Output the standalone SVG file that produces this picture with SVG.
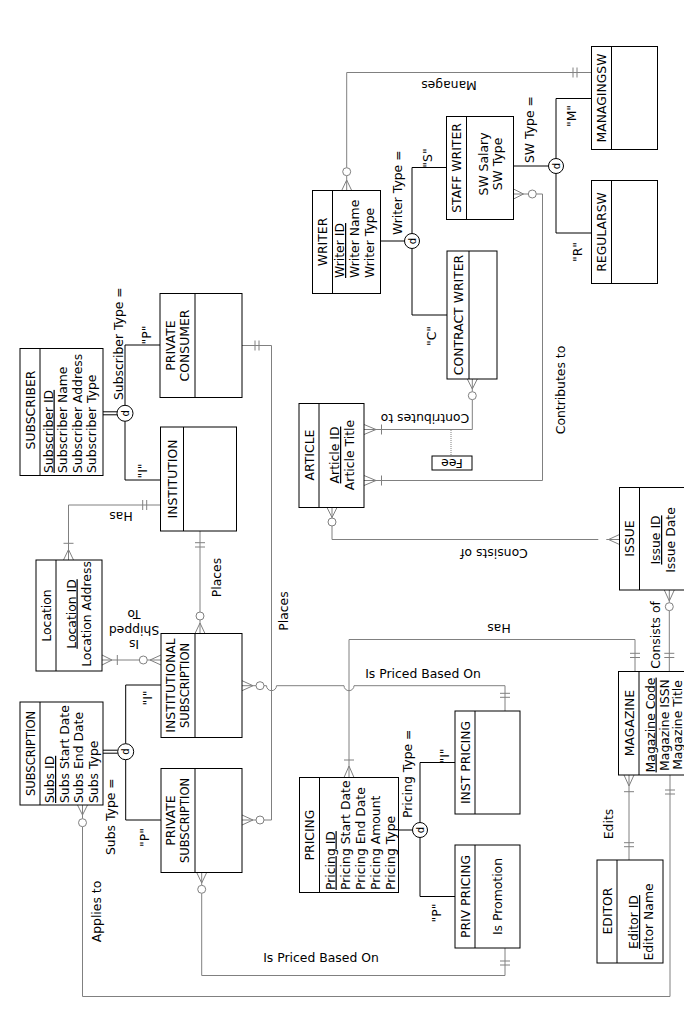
<svg xmlns="http://www.w3.org/2000/svg" width="684" height="1024" viewBox="0 0 684 1024">
<style>
.e{fill:#fff;stroke:#000;stroke-width:1}
.dv{stroke:#000;stroke-width:1}
.c{fill:none;stroke:#808080;stroke-width:1}
.o{fill:#fff;stroke:#808080;stroke-width:1}
.k{fill:none;stroke:#000;stroke-width:1}
.dc{fill:#fff;stroke:#000;stroke-width:1}
.dot{fill:none;stroke:#808080;stroke-width:1;stroke-dasharray:1 1}
text{font-family:"DejaVu Sans",Verdana,sans-serif;font-size:12.4px;fill:#000}
.m{text-anchor:middle}
.u{text-decoration:underline}
.sm{font-size:10px}
.n{font-size:11.5px}
</style>
<rect width="684" height="1024" fill="#fff"/>

<g id="connectors">
  <!-- Manages -->
  <path class="c" d="M346.7,167.7 V72.5 H591.5 M573,67.5 V77.5 M577,67.5 V77.5 M341.7,190.5 L346.7,180 L351.7,190.5 M346.7,175.7 V190.5"/>
  <circle class="o" cx="346.7" cy="171.7" r="4"/>
  <text class="m" transform="translate(449,81) rotate(180)">Manages</text>

  <!-- Staff writer contributes to article -->
  <path class="c" d="M513.5,189 L523.5,194 L513.5,199 M513.5,194 H528.3 M536.3,194 H542.5 V480.5 H364 M381.5,475.5 V485.5 M364,475.5 L376,480.5 L364,485.5"/>
  <circle class="o" cx="532.3" cy="194" r="4"/>
  <text class="m" transform="translate(564.5,390) rotate(-90)">Contributes to</text>

  <!-- Contract writer contributes to article -->
  <path class="c" d="M467.3,379 L472.3,389 L477.3,379 M472.3,379 V391.7 M472.3,399.7 V429.5 H364 M381.5,424.5 V434.5 M364,424.5 L376,429.5 L364,434.5"/>
  <circle class="o" cx="472.3" cy="395.7" r="4"/>
  <path class="dot" d="M451,430 V456"/>
  <text class="m" transform="translate(425,414) rotate(180)">Contributes to</text>

  <!-- Article consists of issue -->
  <path class="c" d="M327,507.5 L332,517.5 L337,507.5 M332,507.5 V518 M332,526 V539.5 H598.3 M606.3,539.5 H619.5 M619.5,534.5 L608.5,539.5 L619.5,544.5"/>
  <circle class="o" cx="332" cy="522" r="4"/>
  <text class="m" transform="translate(494,549) rotate(180)">Consists of</text>

  <!-- Magazine consists of issue -->
  <path class="c" d="M664.3,590 L669.3,601 L674.3,590 M669.3,590 V602.7 M669.3,610.7 V671.5 M664.3,653.3 H674.3 M664.3,657.5 H674.3"/>
  <circle class="o" cx="669.3" cy="606.7" r="4"/>
  <text class="m" transform="translate(660,635) rotate(-90)">Consists of</text>

  <!-- Magazine has pricing -->
  <path class="c" d="M635,671.5 V639.5 H349 V777.5 M630,653.3 H640 M630,657.5 H640 M344,760 H354 M344,777.5 L349,766 L354,777.5"/>
  <text class="m" transform="translate(499,624) rotate(180)">Has</text>

  <!-- Institutional subscription is priced based on inst pricing -->
  <path class="c" d="M242,680.7 L253,685.7 L242,690.7 M242,685.7 H256 M264,685.7 H266.5 A5,5 0 0 0 276.5,685.7 H344 A5,5 0 0 0 354,685.7 H505 V711 M500,693.3 H510 M500,697.3 H510"/>
  <circle class="o" cx="260" cy="685.7" r="4"/>
  <text class="m" transform="translate(423,677.5)">Is Priced Based On</text>

  <!-- Private subscription is priced based on priv pricing -->
  <path class="c" d="M196.7,872.5 L201.7,883 L206.7,872.5 M201.7,872.5 V885.3 M201.7,893.3 V975.5 H505 V948 M500,961 H510 M500,965 H510"/>
  <circle class="o" cx="201.7" cy="889.3" r="4"/>
  <text class="m" transform="translate(321,962)">Is Priced Based On</text>

  <!-- Private consumer places private subscription -->
  <path class="c" d="M242,345.5 H271.5 V820 H264 M255,340.5 V350.5 M259,340.5 V350.5 M256,820 H242 M242,815 L253,820 L242,825"/>
  <circle class="o" cx="260" cy="820" r="4"/>
  <text class="m" transform="translate(287.5,611) rotate(-90)">Places</text>

  <!-- Institution places institutional subscription -->
  <path class="c" d="M200,531 V612 M195,542.7 H205 M195,547 H205 M200,620 V633.5 M195,633.5 L200,623 L205,633.5"/>
  <circle class="o" cx="200" cy="616" r="4"/>
  <text class="m" transform="translate(221,577.5) rotate(-90)">Places</text>

  <!-- Institution has location -->
  <path class="c" d="M160.5,505 H68.5 V560 M142.7,500 V510 M146.7,500 V510 M63.5,543.3 H73.5 M63.5,560 L68.5,549.5 L73.5,560"/>
  <text class="m" transform="translate(121,512) rotate(180)">Has</text>

  <!-- Institutional subscription is shipped to location -->
  <path class="c" d="M161,655 L150,660 L161,665 M161,660 H147.3 M139.3,660 H102 M117.3,655 V665 M102,655 L112,660 L102,665"/>
  <circle class="o" cx="143.3" cy="660" r="4"/>
  <text class="m" transform="translate(134,640) rotate(180)">Is</text>
  <text class="m" transform="translate(134,626) rotate(180)">Shipped</text>
  <text class="m" transform="translate(134,610) rotate(180)">To</text>

  <!-- Editor edits magazine -->
  <path class="c" d="M629,775 V860 M624,775 L629,786 L634,775 M624,791.7 H634 M624,842.7 H634 M624,846.7 H634"/>
  <text class="m" transform="translate(613,824) rotate(-90)">Edits</text>

  <!-- Subscription applies to magazine -->
  <path class="c" d="M670,775 V996.5 H82.5 V826.7 M665,790 H675 M665,794 H675 M82.5,818.7 V805 M77.5,805 L82.5,815 L87.5,805"/>
  <circle class="o" cx="82.5" cy="822.7" r="4"/>
  <text class="m" transform="translate(100.5,911.5) rotate(-90)">Applies to</text>
</g>

<g id="disjoint-sw-type">
  <path class="k" d="M513.5,166 H548.5 M556,158.5 V98.5 H591.5 M556,173.5 V233 H591.5"/>
  <circle class="dc" cx="556" cy="166" r="7.5"/>
  <text class="m sm" transform="translate(559.5,166) rotate(-90)">d</text>
  <text transform="translate(533.5,163) rotate(-90)">SW Type =</text>
  <text class="m" transform="translate(576,116) rotate(-90)">"M"</text>
  <text class="m" transform="translate(582,252) rotate(-90)">"R"</text>
</g>

<g id="disjoint-writer-type">
  <path class="k" d="M380.5,241 H404.5 M412,233.5 V167.5 H446.5 M412,248.5 V315 H447"/>
  <circle class="dc" cx="412" cy="241" r="7.5"/>
  <text class="m sm" transform="translate(415.5,241) rotate(-90)">d</text>
  <text transform="translate(401.5,235) rotate(-90)">Writer Type =</text>
  <text class="m" transform="translate(431.5,158) rotate(-90)">"S"</text>
  <text class="m" transform="translate(436,336) rotate(-90)">"C"</text>
</g>

<g id="disjoint-subscriber-type">
  <path class="k" d="M103,411.8 H117 M103,414.8 H117 M125,405.3 V345 H160 M125,421.3 V480 H160.5"/>
  <circle class="dc" cx="125" cy="413.3" r="8"/>
  <text class="m sm" transform="translate(128.5,413.3) rotate(-90)">d</text>
  <text transform="translate(122.5,400) rotate(-90)">Subscriber Type =</text>
  <text class="m" transform="translate(150.5,335) rotate(-90)">"P"</text>
  <text class="m" transform="translate(146.5,471) rotate(-90)">"I"</text>
</g>

<g id="disjoint-subs-type">
  <path class="k" d="M103,750.2 H117.7 M103,753.2 H117.7 M125.7,743.7 V685 H161 M125.7,759.7 V820 H161"/>
  <circle class="dc" cx="125.7" cy="751.7" r="8"/>
  <text class="m sm" transform="translate(129.2,751.7) rotate(-90)">d</text>
  <text transform="translate(114.5,855) rotate(-90)">Subs Type =</text>
  <text class="m" transform="translate(152,698) rotate(-90)">"I"</text>
  <text class="m" transform="translate(149,837.5) rotate(-90)">"P"</text>
</g>

<g id="disjoint-pricing-type">
  <path class="k" d="M398.5,830 H412.5 M420,822.5 V762.5 H455 M420,837.5 V896.5 H455"/>
  <circle class="dc" cx="420" cy="830" r="7.5"/>
  <text class="m sm" transform="translate(423.5,830) rotate(-90)">d</text>
  <text transform="translate(412,818) rotate(-90)">Pricing Type =</text>
  <text class="m" transform="translate(448.5,756) rotate(-90)">"I"</text>
  <text class="m" transform="translate(440.5,913) rotate(-90)">"P"</text>
</g>

<g id="managingsw">
  <rect class="e" x="591.5" y="46.5" width="66" height="103"/>
  <line class="dv" x1="611.5" y1="46.5" x2="611.5" y2="149.5"/>
  <text class="m" transform="translate(606,98) rotate(-90)">MANAGINGSW</text>
</g>
<g id="regularsw">
  <rect class="e" x="591.5" y="180.5" width="66" height="103"/>
  <line class="dv" x1="611.5" y1="180.5" x2="611.5" y2="283.5"/>
  <text class="m" transform="translate(606,232) rotate(-90)">REGULARSW</text>
</g>
<g id="staff-writer">
  <rect class="e" x="446.5" y="116.5" width="67" height="103"/>
  <line class="dv" x1="466.5" y1="116.5" x2="466.5" y2="219.5"/>
  <text class="m" transform="translate(461,168) rotate(-90)">STAFF WRITER</text>
  <text class="m" transform="translate(487.5,164) rotate(-90)">SW Salary</text>
  <text class="m" transform="translate(502,164) rotate(-90)">SW Type</text>
</g>
<g id="writer">
  <rect class="e" x="312.5" y="190.5" width="68" height="103"/>
  <line class="dv" x1="332.5" y1="190.5" x2="332.5" y2="293.5"/>
  <text class="m" transform="translate(327,242) rotate(-90)">WRITER</text>
  <text class="u" transform="translate(344,278) rotate(-90)">Writer ID</text>
  <text transform="translate(358.8,278) rotate(-90)">Writer Name</text>
  <text transform="translate(373.6,278) rotate(-90)">Writer Type</text>
</g>
<g id="contract-writer">
  <rect class="e" x="447" y="251" width="50" height="128"/>
  <line class="dv" x1="469" y1="251" x2="469" y2="379"/>
  <text class="m" transform="translate(462.5,315) rotate(-90)">CONTRACT WRITER</text>
</g>
<g id="article">
  <rect class="e" x="299" y="403.5" width="65" height="104"/>
  <line class="dv" x1="319" y1="403.5" x2="319" y2="507.5"/>
  <text class="m" transform="translate(313.5,455) rotate(-90)">ARTICLE</text>
  <text class="m u" transform="translate(339,455) rotate(-90)">Article ID</text>
  <text class="m" transform="translate(353.5,455) rotate(-90)">Article Title</text>
</g>
<g id="fee">
  <rect class="e" x="432" y="456" width="40" height="14"/>
  <text class="m" transform="translate(452,458.5) rotate(180)">Fee</text>
</g>
<g id="issue">
  <rect class="e" x="619.5" y="487.5" width="70" height="102.5"/>
  <line class="dv" x1="639.5" y1="487.5" x2="639.5" y2="590"/>
  <text class="m" transform="translate(634,538.5) rotate(-90)">ISSUE</text>
  <text class="m u" transform="translate(660,540) rotate(-90)">Issue ID</text>
  <text class="m" transform="translate(674.8,540) rotate(-90)">Issue Date</text>
</g>
<g id="magazine">
  <rect class="e" x="618.5" y="671.5" width="70" height="103.5"/>
  <line class="dv" x1="639" y1="671.5" x2="639" y2="775"/>
  <text class="m" transform="translate(633.5,723) rotate(-90)">MAGAZINE</text>
  <text class="m u" transform="translate(654.5,725) rotate(-90)">Magazine Code</text>
  <text class="m" transform="translate(669,725) rotate(-90)">Magazine ISSN</text>
  <text class="m" transform="translate(682,725) rotate(-90)">Magazine Title</text>
</g>
<g id="editor">
  <rect class="e" x="597" y="860" width="66" height="103"/>
  <line class="dv" x1="617" y1="860" x2="617" y2="963"/>
  <text class="m" transform="translate(611.5,911) rotate(-90)">EDITOR</text>
  <text class="m u" transform="translate(638,922) rotate(-90)">Editor ID</text>
  <text class="m" transform="translate(652.5,922) rotate(-90)">Editor Name</text>
</g>
<g id="pricing">
  <rect class="e" x="299.5" y="777.5" width="99" height="115"/>
  <line class="dv" x1="319.5" y1="777.5" x2="319.5" y2="892.5"/>
  <text class="m" transform="translate(314,835) rotate(-90)">PRICING</text>
  <text class="u" transform="translate(334.5,890) rotate(-90)">Pricing ID</text>
  <text transform="translate(349.5,890) rotate(-90)">Pricing Start Date</text>
  <text transform="translate(364.5,890) rotate(-90)">Pricing End Date</text>
  <text transform="translate(379.5,890) rotate(-90)">Pricing Amount</text>
  <text transform="translate(394.5,890) rotate(-90)">Pricing Type</text>
</g>
<g id="inst-pricing">
  <rect class="e" x="455" y="711" width="65" height="103"/>
  <line class="dv" x1="475" y1="711" x2="475" y2="814"/>
  <text class="m" transform="translate(469.5,762.5) rotate(-90)">INST PRICING</text>
</g>
<g id="priv-pricing">
  <rect class="e" x="455" y="845" width="65" height="103"/>
  <line class="dv" x1="475" y1="845" x2="475" y2="948"/>
  <text class="m" transform="translate(469.5,896.5) rotate(-90)">PRIV PRICING</text>
  <text class="m" transform="translate(502,896.5) rotate(-90)">Is Promotion</text>
</g>
<g id="private-subscription">
  <rect class="e" x="161" y="768.5" width="81" height="104"/>
  <line class="dv" x1="195" y1="768.5" x2="195" y2="872.5"/>
  <text class="m" transform="translate(174.5,820.5) rotate(-90)">PRIVATE</text>
  <text class="m n" transform="translate(189.3,820.5) rotate(-90)">SUBSCRIPTION</text>
</g>
<g id="institutional-subscription">
  <rect class="e" x="161" y="633.5" width="81" height="104"/>
  <line class="dv" x1="195" y1="633.5" x2="195" y2="737.5"/>
  <text class="m" transform="translate(174.5,685.5) rotate(-90)">INSTITUTIONAL</text>
  <text class="m n" transform="translate(189.3,685.5) rotate(-90)">SUBSCRIPTION</text>
</g>
<g id="subscription">
  <rect class="e" x="20" y="702" width="83" height="103"/>
  <line class="dv" x1="40" y1="702" x2="40" y2="805"/>
  <text class="m n" transform="translate(34.5,753.5) rotate(-90)">SUBSCRIPTION</text>
  <text class="u" transform="translate(54,803) rotate(-90)">Subs ID</text>
  <text transform="translate(68.5,803) rotate(-90)">Subs Start Date</text>
  <text transform="translate(83,803) rotate(-90)">Subs End Date</text>
  <text transform="translate(97.5,803) rotate(-90)">Subs Type</text>
</g>
<g id="location">
  <rect class="e" x="36" y="560" width="66" height="111"/>
  <line class="dv" x1="56" y1="560" x2="56" y2="671"/>
  <text class="m" transform="translate(50.5,615.5) rotate(-90)">Location</text>
  <text class="m u" transform="translate(75.5,614) rotate(-90)">Location ID</text>
  <text class="m" transform="translate(90.5,614) rotate(-90)">Location Address</text>
</g>
<g id="subscriber">
  <rect class="e" x="20" y="348.5" width="83" height="127"/>
  <line class="dv" x1="40" y1="348.5" x2="40" y2="475.5"/>
  <text class="m" transform="translate(34.5,410) rotate(-90)">SUBSCRIBER</text>
  <text class="u" transform="translate(52.5,473) rotate(-90)">Subscriber ID</text>
  <text transform="translate(67,473) rotate(-90)">Subscriber Name</text>
  <text transform="translate(81.5,473) rotate(-90)">Subscriber Address</text>
  <text transform="translate(96,473) rotate(-90)">Subscriber Type</text>
</g>
<g id="private-consumer">
  <rect class="e" x="160" y="293.5" width="82" height="104"/>
  <line class="dv" x1="195" y1="293.5" x2="195" y2="397.5"/>
  <text class="m" transform="translate(174.5,345.5) rotate(-90)">PRIVATE</text>
  <text class="m" transform="translate(189.3,345.5) rotate(-90)">CONSUMER</text>
</g>
<g id="institution">
  <rect class="e" x="160.5" y="427" width="76" height="104"/>
  <line class="dv" x1="183.5" y1="427" x2="183.5" y2="531"/>
  <text class="m" transform="translate(176.5,479) rotate(-90)">INSTITUTION</text>
</g>
</svg>
